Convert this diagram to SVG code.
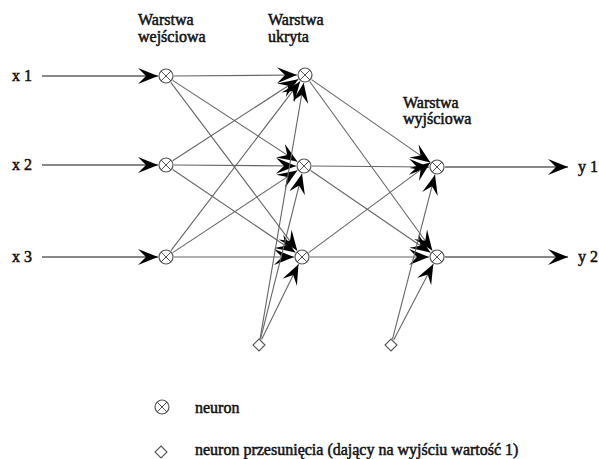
<svg xmlns="http://www.w3.org/2000/svg" width="599" height="459" viewBox="0 0 599 459">
<style>
.t{font-family:'Liberation Serif','Times New Roman',serif;fill:#111;font-size:16px;stroke:#111;stroke-width:0.5;}
.n{fill:#fff;stroke:#555;stroke-width:1.2;}
.c{stroke:#555;stroke-width:1;fill:none;}
.ln{stroke:#666;stroke-width:1.1;fill:none;marker-end:url(#ah);}
.io{stroke:#888;stroke-width:2;fill:none;marker-end:url(#ah);}
.b{fill:#fff;stroke:#555;stroke-width:1.1;}
</style>
<defs>
<marker id="ah" markerUnits="userSpaceOnUse" viewBox="-21 -9 22 18" refX="0" refY="0" markerWidth="22" markerHeight="18" orient="auto" overflow="visible">
<path d="M0,0 L-20,-8 L-12,0 L-20,8 Z" fill="#000"/>
</marker>
<g id="nsym"><circle class="n" r="7"/><path class="c" d="M-5,-5 L5,5 M-5,5 L5,-5"/></g>
</defs>
<g id="connectors">
<path class="io" d="M42,76 L158,76"/>
<path class="io" d="M42,165 L158,165"/>
<path class="io" d="M42,257 L158,257"/>
<path class="io" d="M445,167 L568,167"/>
<path class="io" d="M445,257 L568,257"/>
<path class="ln" d="M174,76 L297,75"/>
<path class="ln" d="M172.7,80.4 L297.3,161.6"/>
<path class="ln" d="M170.8,82.4 L297.2,250.6"/>
<path class="ln" d="M172.7,160.7 L298.3,79.3"/>
<path class="ln" d="M174,165 L296,166"/>
<path class="ln" d="M172.6,169.5 L295.4,252.5"/>
<path class="ln" d="M170.9,250.6 L300.1,81.4"/>
<path class="ln" d="M172.7,252.6 L297.3,170.4"/>
<path class="ln" d="M174,257 L294,257"/>
<path class="ln" d="M311.6,79.6 L430.4,162.4"/>
<path class="ln" d="M309.7,81.5 L432.3,250.5"/>
<path class="ln" d="M312,166 L429,167"/>
<path class="ln" d="M310.6,170.5 L430.4,252.5"/>
<path class="ln" d="M308.7,252.6 L430.3,162.6"/>
<path class="ln" d="M310,257 L429,257"/>
<path class="ln" d="M260,339.1 L303.7,82.9"/>
<path class="ln" d="M260.5,339.2 L302,173.8"/>
<path class="ln" d="M261.6,339.6 L298.5,264.2"/>
<path class="ln" d="M392.5,339.2 L435,174.7"/>
<path class="ln" d="M393.8,339.7 L433.3,263.9"/>
</g>
<g id="in1"><use href="#nsym" x="166" y="76"/></g>
<g id="in2"><use href="#nsym" x="166" y="165"/></g>
<g id="in3"><use href="#nsym" x="166" y="257"/></g>
<g id="h1"><use href="#nsym" x="305" y="75"/></g>
<g id="h2"><use href="#nsym" x="304" y="166"/></g>
<g id="h3"><use href="#nsym" x="302" y="257"/></g>
<g id="o1"><use href="#nsym" x="437" y="167"/></g>
<g id="o2"><use href="#nsym" x="437" y="257"/></g>
<g id="bias1"><path class="b" d="M259,339 L265,345 L259,351 L253,345 Z"/></g>
<g id="bias2"><path class="b" d="M391,339 L397,345 L391,351 L385,345 Z"/></g>
<g id="labels">
<text class="t" x="12" y="81">x 1</text>
<text class="t" x="12" y="170">x 2</text>
<text class="t" x="12" y="262">x 3</text>
<text class="t" x="578" y="172">y 1</text>
<text class="t" x="578" y="262">y 2</text>
<text class="t" x="138" y="25">Warstwa</text>
<text class="t" x="138" y="42">wejściowa</text>
<text class="t" x="268" y="25">Warstwa</text>
<text class="t" x="268" y="42">ukryta</text>
<text class="t" x="403" y="108">Warstwa</text>
<text class="t" x="403" y="124">wyjściowa</text>
</g>
<g id="legend">
<use href="#nsym" x="162" y="407"/>
<path class="b" d="M161,446 L167,452 L161,458 L155,452 Z"/>
<text class="t" x="195" y="413">neuron</text>
<text class="t" x="195" y="455">neuron przesunięcia (dający na wyjściu wartość 1)</text>
</g>
</svg>
